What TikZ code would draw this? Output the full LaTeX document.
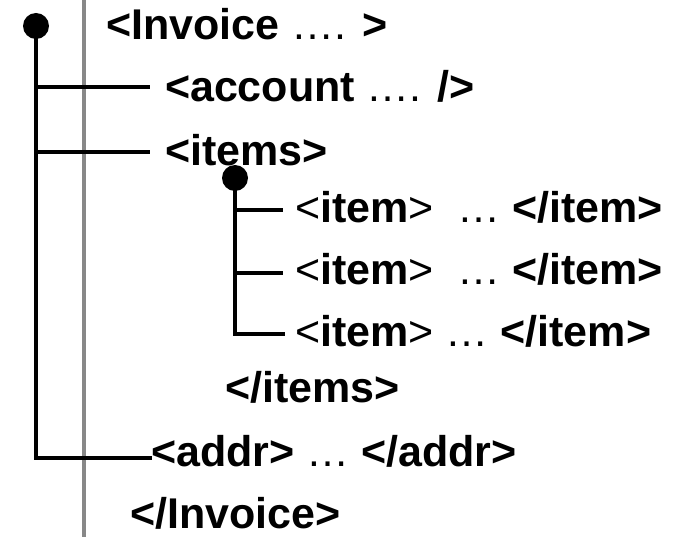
\documentclass[tikz,border=0pt]{standalone}
\usepackage{fontspec}
\setmainfont{Liberation Sans}
\begin{document}
\begin{tikzpicture}[x=1pt,y=-1pt,
  txt/.style={anchor=base west,inner sep=0pt,outer sep=0pt,font=\fontsize{43}{48}\selectfont},
  tree/.style={line width=4.5pt,black},
  guide/.style={line width=4pt,draw={rgb,255:red,136;green,136;blue,136}},
  knot/.style={circle,fill=black,inner sep=0pt,minimum size=26pt}]
\useasboundingbox (0,0) rectangle (678,537);
% gray guide line
\coordinate (gtop) at (84,0);
\coordinate (gbot) at (84,537);
\draw[guide] (gtop) -- (gbot);
% texts
\node[txt] (invoice) at (106,40) {\textbf{<Invoice} …. \textbf{>}};
\node[txt] (account) at (165,102) {\textbf{<account} …. \textbf{/>}};
\node[txt] (items) at (165,166) {\textbf{<items>}};
\node[txt] (item1) at (295,223) {<\textbf{item}>\ \ … \textbf{</item>}};
\node[txt] (item2) at (295,285) {<\textbf{item}>\ \ … \textbf{</item>}};
\node[txt] (item3) at (295,347) {<\textbf{item}> … \textbf{</item>}};
\node[txt] (itemsend) at (225,403) {\textbf{</items>}};
\node[txt] (addr) at (151,467) {\textbf{<addr>} … \textbf{</addr>}};
\node[txt] (invoiceend) at (130,529) {\textbf{</Invoice>}};
% outer tree
\node[knot] (root) at (36,26) {};
\coordinate (c1) at (36,87);
\coordinate (c2) at (36,152);
\coordinate (c3) at (36,458);
\coordinate (e1) at (150,87);
\coordinate (e2) at (150,152);
\coordinate (e3) at (150,458);
\draw[tree] (root.center) -- (c3);
\draw[tree] (c1) -- (e1);
\draw[tree] (c2) -- (e2);
\draw[tree,line cap=rect] (c3) -- (e3);
% inner tree
\node[knot] (sub) at (235,178) {};
\coordinate (d1) at (235,210);
\coordinate (d2) at (235,273);
\coordinate (d3) at (235,334);
\coordinate (f1) at (283,210);
\coordinate (f2) at (283,273);
\coordinate (f3) at (283,334);
\draw[tree] (sub.center) -- (d3);
\draw[tree] (d1) -- (f1);
\draw[tree] (d2) -- (f2);
\draw[tree,line cap=rect] (d3) -- (f3);
\end{tikzpicture}
\end{document}
